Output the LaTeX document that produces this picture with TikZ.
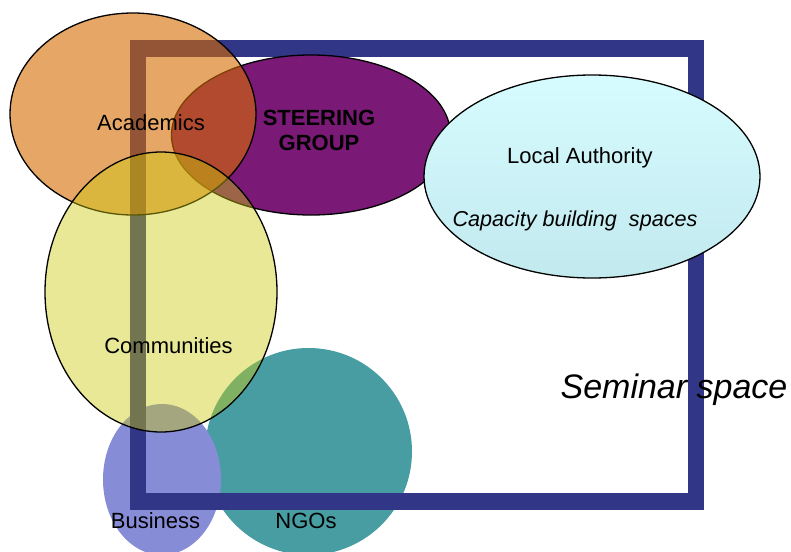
\documentclass[tikz,border=0pt]{standalone}
\usepackage{fontspec}
\setmainfont{Liberation Sans}
\usetikzlibrary{shapes.geometric}
\definecolor{frameBlue}{RGB}{50,54,135}
\definecolor{acadOrange}{RGB}{214,107,0}
\definecolor{steerPurple}{RGB}{122,26,118}
\definecolor{commYellow}{RGB}{202,202,12}
\definecolor{laTop}{RGB}{214,252,255}
\definecolor{laBottom}{RGB}{194,233,238}
\definecolor{ngoTeal}{RGB}{72,157,162}
\definecolor{bizLilac}{RGB}{135,140,215}

\begin{document}
\begin{tikzpicture}[
  x=1pt, y=-1pt,
  blob/.style={ellipse, inner sep=0pt, draw=black, line width=1.3pt},
  flat/.style={ellipse, inner sep=0pt, draw=none},
  frame/.style={draw=frameBlue, line width=16.5pt},
  txt/.style={font=\fontsize{22}{26}\selectfont, align=center},
  big/.style={font=\fontsize{34}{40}\selectfont\itshape}
]
\useasboundingbox (0,0) rectangle (791,551);

\node[flat, fill=ngoTeal, minimum width=207pt, minimum height=207pt] (ngos) at (308.5,451.5) {};
\node[flat, fill=bizLilac, minimum width=118pt, minimum height=151pt] (business) at (162,479.5) {};

\draw[frame] (138,48.5) rectangle (696,501.5);

\node[blob, fill=steerPurple, minimum width=279pt, minimum height=160pt] (steering) at (311,135) {};
\node[blob, fill=acadOrange, fill opacity=0.6, minimum width=246pt, minimum height=202pt] (academics) at (133,114) {};
\node[blob, fill=commYellow, fill opacity=0.43, minimum width=232pt, minimum height=280pt] (communities) at (161,292) {};
\node[blob, top color=laTop, bottom color=laBottom, minimum width=336pt, minimum height=203pt] (authority) at (592,176.5) {};

\node[txt] (tAcad) at (151,123) {Academics};
\node[txt, font=\fontsize{22}{25}\selectfont\bfseries] (tSteer) at (319,130) {STEERING\\GROUP};
\node[txt] (tLocal) at (580,158) {Local Authority};
\node[txt, font=\fontsize{21.6}{25}\selectfont\itshape] (tCap) at (575,221) {Capacity building\ \ spaces};
\node[txt] (tComm) at (168.5,346) {Communities};
\node[txt] (tBiz) at (155.5,521) {Business};
\node[txt] (tNgo) at (306,521) {NGOs};
\node[big] (tSeminar) at (674,390) {Seminar space};
\end{tikzpicture}
\end{document}
